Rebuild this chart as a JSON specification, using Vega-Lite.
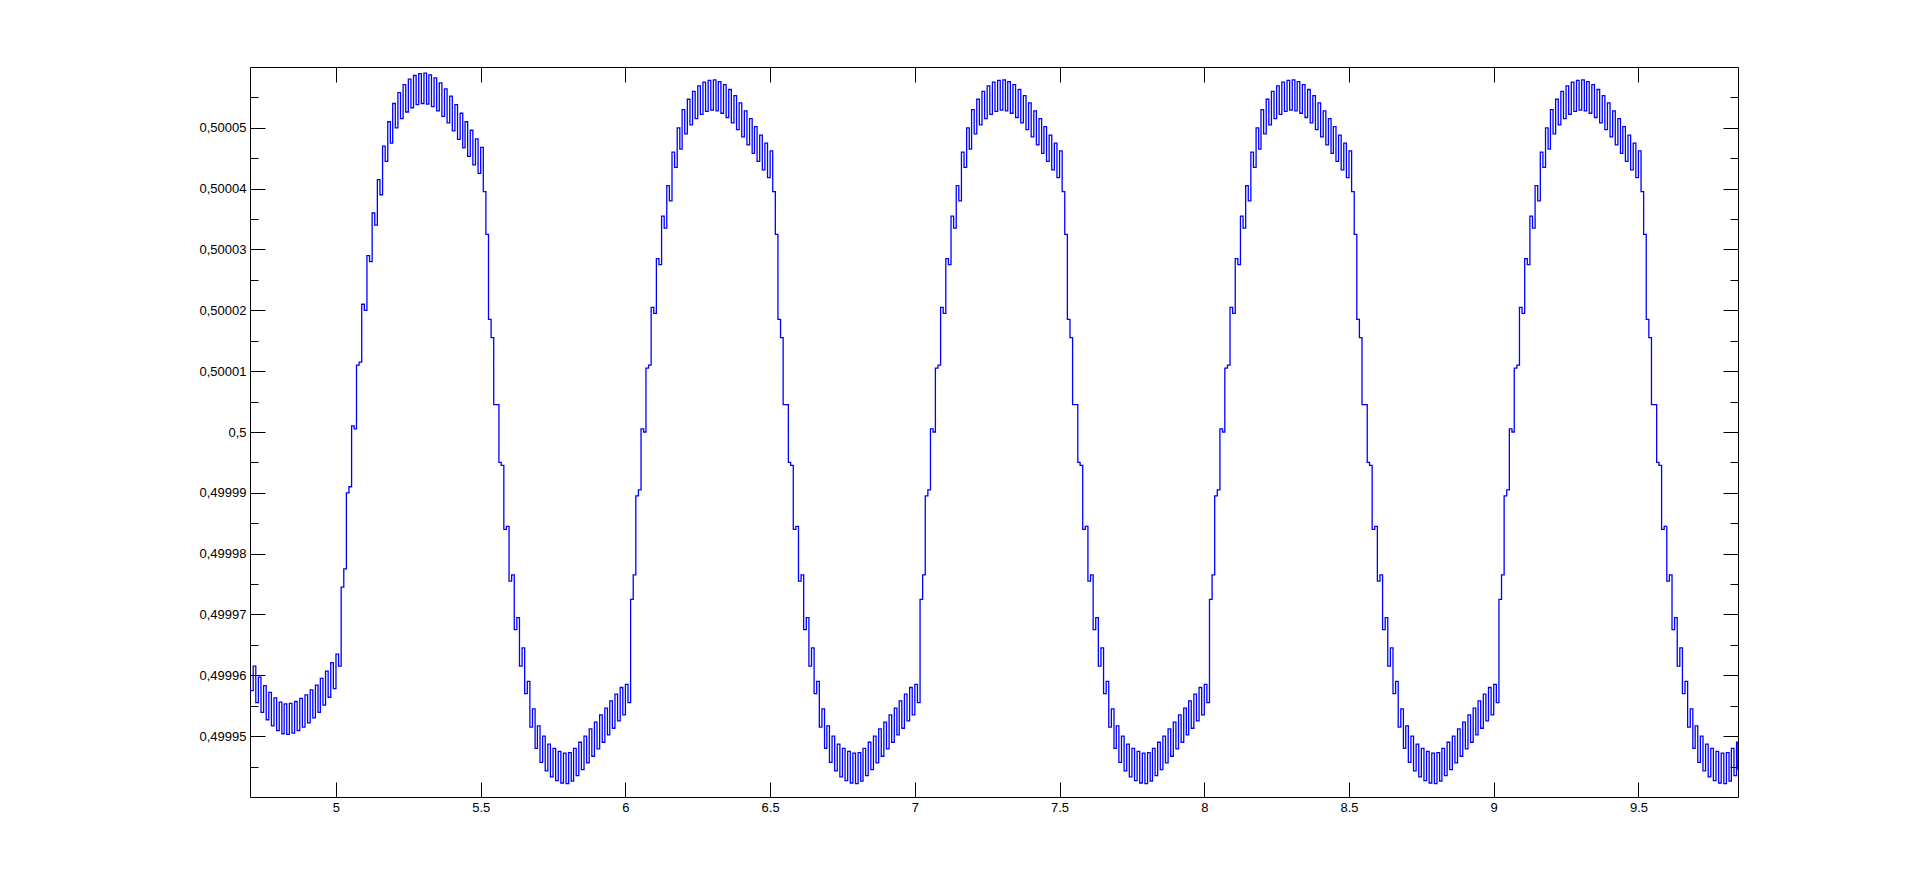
{
"$schema":"https://vega.github.io/schema/vega-lite/v6.json",
"width":1488,"height":730,
"autosize":{"type":"none"},
"padding":{"left":250,"top":67,"right":183,"bottom":98},
"background":"white",
"config":{"view":{"stroke":null},"axis":{"grid":false,"domainColor":"#000000","domainWidth":1,"tickColor":"#000000","tickWidth":1,"labelColor":"#000000","labelFont":"Liberation Sans","labelFontSize":13}},
"datasets":{"sig":[
{"x":4.703,"y":0.4999575},{"x":4.714,"y":0.4999615},{"x":4.723,"y":0.4999555},{"x":4.732,"y":0.4999597},{"x":4.741,"y":0.4999539},{"x":4.750,"y":0.4999583},{"x":4.759,"y":0.4999527},{"x":4.768,"y":0.4999572},{"x":4.777,"y":0.4999517},{"x":4.786,"y":0.4999563},{"x":4.795,"y":0.4999509},{"x":4.804,"y":0.4999556},{"x":4.813,"y":0.4999504},{"x":4.821,"y":0.4999553},{"x":4.830,"y":0.4999503},{"x":4.839,"y":0.4999554},{"x":4.848,"y":0.4999505},{"x":4.857,"y":0.4999557},{"x":4.866,"y":0.4999509},{"x":4.875,"y":0.4999562},{"x":4.884,"y":0.4999515},{"x":4.893,"y":0.4999568},{"x":4.902,"y":0.4999522},{"x":4.911,"y":0.4999576},{"x":4.920,"y":0.4999530},{"x":4.929,"y":0.4999584},{"x":4.938,"y":0.4999539},{"x":4.946,"y":0.4999595},{"x":4.955,"y":0.4999551},{"x":4.964,"y":0.4999607},{"x":4.973,"y":0.4999564},{"x":4.982,"y":0.4999621},{"x":4.991,"y":0.4999578},
{"x":5.000,"y":0.4999635},{"x":5.009,"y":0.4999615},{"x":5.018,"y":0.4999745},{"x":5.027,"y":0.4999775},{"x":5.036,"y":0.4999900},{"x":5.045,"y":0.4999910},{"x":5.054,"y":0.5000010},{"x":5.063,"y":0.5000005},{"x":5.071,"y":0.5000110},{"x":5.080,"y":0.5000115},{"x":5.089,"y":0.5000210},{"x":5.098,"y":0.5000200},{"x":5.107,"y":0.5000290},{"x":5.116,"y":0.5000280},{"x":5.125,"y":0.5000360},{"x":5.134,"y":0.5000340},{"x":5.143,"y":0.5000415},{"x":5.152,"y":0.5000390},{"x":5.161,"y":0.5000470},{"x":5.170,"y":0.5000445},{"x":5.179,"y":0.5000510},{"x":5.188,"y":0.5000475},{"x":5.196,"y":0.5000540},{"x":5.205,"y":0.5000500},{"x":5.214,"y":0.5000558},{"x":5.223,"y":0.5000515},{"x":5.232,"y":0.5000571},{"x":5.241,"y":0.5000526},{"x":5.250,"y":0.5000580},{"x":5.259,"y":0.5000533},{"x":5.268,"y":0.5000586},{"x":5.277,"y":0.5000538},{"x":5.286,"y":0.5000589},{"x":5.295,"y":0.5000540},{"x":5.304,"y":0.5000590},{"x":5.313,"y":0.5000539},{"x":5.321,"y":0.5000587},{"x":5.330,"y":0.5000535},{"x":5.339,"y":0.5000582},{"x":5.348,"y":0.5000528},{"x":5.357,"y":0.5000574},{"x":5.366,"y":0.5000519},{"x":5.375,"y":0.5000564},{"x":5.384,"y":0.5000508},{"x":5.393,"y":0.5000552},{"x":5.402,"y":0.5000495},{"x":5.411,"y":0.5000538},{"x":5.420,"y":0.5000481},{"x":5.429,"y":0.5000524},{"x":5.438,"y":0.5000467},{"x":5.446,"y":0.5000510},{"x":5.455,"y":0.5000453},{"x":5.464,"y":0.5000496},{"x":5.473,"y":0.5000439},{"x":5.482,"y":0.5000482},{"x":5.491,"y":0.5000425},{"x":5.500,"y":0.5000468},
{"x":5.509,"y":0.5000395},{"x":5.518,"y":0.5000325},{"x":5.527,"y":0.5000185},{"x":5.536,"y":0.5000155},{"x":5.545,"y":0.5000045},{"x":5.554,"y":0.5000045},{"x":5.563,"y":0.4999950},{"x":5.571,"y":0.4999945},{"x":5.580,"y":0.4999840},{"x":5.589,"y":0.4999845},{"x":5.598,"y":0.4999755},{"x":5.607,"y":0.4999765},{"x":5.616,"y":0.4999675},{"x":5.625,"y":0.4999695},{"x":5.634,"y":0.4999615},{"x":5.643,"y":0.4999645},{"x":5.652,"y":0.4999570},{"x":5.661,"y":0.4999590},{"x":5.670,"y":0.4999515},{"x":5.679,"y":0.4999545},{"x":5.688,"y":0.4999480},{"x":5.696,"y":0.4999517},{"x":5.705,"y":0.4999457},{"x":5.714,"y":0.4999500},{"x":5.723,"y":0.4999443},{"x":5.732,"y":0.4999487},{"x":5.741,"y":0.4999433},{"x":5.750,"y":0.4999480},{"x":5.759,"y":0.4999427},{"x":5.768,"y":0.4999475},{"x":5.777,"y":0.4999423},{"x":5.786,"y":0.4999472},{"x":5.795,"y":0.4999422},{"x":5.804,"y":0.4999473},{"x":5.813,"y":0.4999426},{"x":5.821,"y":0.4999480},{"x":5.830,"y":0.4999435},{"x":5.839,"y":0.4999490},{"x":5.848,"y":0.4999445},{"x":5.857,"y":0.4999500},{"x":5.866,"y":0.4999456},{"x":5.875,"y":0.4999512},{"x":5.884,"y":0.4999467},{"x":5.893,"y":0.4999523},{"x":5.902,"y":0.4999479},{"x":5.911,"y":0.4999535},{"x":5.920,"y":0.4999490},{"x":5.929,"y":0.4999546},{"x":5.938,"y":0.4999502},{"x":5.946,"y":0.4999558},{"x":5.955,"y":0.4999513},{"x":5.964,"y":0.4999569},{"x":5.973,"y":0.4999525},{"x":5.982,"y":0.4999580},{"x":5.991,"y":0.4999535},
{"x":6.000,"y":0.4999585},{"x":6.009,"y":0.4999555},{"x":6.018,"y":0.4999725},{"x":6.027,"y":0.4999765},{"x":6.036,"y":0.4999895},{"x":6.045,"y":0.4999905},{"x":6.054,"y":0.5000005},{"x":6.063,"y":0.5000000},{"x":6.071,"y":0.5000105},{"x":6.080,"y":0.5000110},{"x":6.089,"y":0.5000205},{"x":6.098,"y":0.5000195},{"x":6.107,"y":0.5000285},{"x":6.116,"y":0.5000275},{"x":6.125,"y":0.5000355},{"x":6.134,"y":0.5000335},{"x":6.143,"y":0.5000405},{"x":6.152,"y":0.5000380},{"x":6.161,"y":0.5000460},{"x":6.170,"y":0.5000435},{"x":6.179,"y":0.5000500},{"x":6.188,"y":0.5000465},{"x":6.196,"y":0.5000530},{"x":6.205,"y":0.5000490},{"x":6.214,"y":0.5000547},{"x":6.223,"y":0.5000505},{"x":6.232,"y":0.5000560},{"x":6.241,"y":0.5000515},{"x":6.250,"y":0.5000569},{"x":6.259,"y":0.5000522},{"x":6.268,"y":0.5000575},{"x":6.277,"y":0.5000527},{"x":6.286,"y":0.5000578},{"x":6.295,"y":0.5000529},{"x":6.304,"y":0.5000579},{"x":6.313,"y":0.5000528},{"x":6.321,"y":0.5000576},{"x":6.330,"y":0.5000524},{"x":6.339,"y":0.5000571},{"x":6.348,"y":0.5000517},{"x":6.357,"y":0.5000563},{"x":6.366,"y":0.5000508},{"x":6.375,"y":0.5000553},{"x":6.384,"y":0.5000497},{"x":6.393,"y":0.5000541},{"x":6.402,"y":0.5000485},{"x":6.411,"y":0.5000528},{"x":6.420,"y":0.5000472},{"x":6.429,"y":0.5000515},{"x":6.438,"y":0.5000458},{"x":6.446,"y":0.5000502},{"x":6.455,"y":0.5000445},{"x":6.464,"y":0.5000488},{"x":6.473,"y":0.5000431},{"x":6.482,"y":0.5000475},{"x":6.491,"y":0.5000418},{"x":6.500,"y":0.5000462},
{"x":6.509,"y":0.5000395},{"x":6.518,"y":0.5000325},{"x":6.527,"y":0.5000185},{"x":6.536,"y":0.5000155},{"x":6.545,"y":0.5000045},{"x":6.554,"y":0.5000045},{"x":6.563,"y":0.4999950},{"x":6.571,"y":0.4999945},{"x":6.580,"y":0.4999840},{"x":6.589,"y":0.4999845},{"x":6.598,"y":0.4999755},{"x":6.607,"y":0.4999765},{"x":6.616,"y":0.4999675},{"x":6.625,"y":0.4999695},{"x":6.634,"y":0.4999615},{"x":6.643,"y":0.4999645},{"x":6.652,"y":0.4999570},{"x":6.661,"y":0.4999590},{"x":6.670,"y":0.4999515},{"x":6.679,"y":0.4999545},{"x":6.688,"y":0.4999480},{"x":6.696,"y":0.4999517},{"x":6.705,"y":0.4999457},{"x":6.714,"y":0.4999500},{"x":6.723,"y":0.4999443},{"x":6.732,"y":0.4999487},{"x":6.741,"y":0.4999433},{"x":6.750,"y":0.4999480},{"x":6.759,"y":0.4999427},{"x":6.768,"y":0.4999475},{"x":6.777,"y":0.4999423},{"x":6.786,"y":0.4999472},{"x":6.795,"y":0.4999422},{"x":6.804,"y":0.4999473},{"x":6.813,"y":0.4999426},{"x":6.821,"y":0.4999480},{"x":6.830,"y":0.4999435},{"x":6.839,"y":0.4999490},{"x":6.848,"y":0.4999445},{"x":6.857,"y":0.4999500},{"x":6.866,"y":0.4999456},{"x":6.875,"y":0.4999512},{"x":6.884,"y":0.4999467},{"x":6.893,"y":0.4999523},{"x":6.902,"y":0.4999479},{"x":6.911,"y":0.4999535},{"x":6.920,"y":0.4999490},{"x":6.929,"y":0.4999546},{"x":6.938,"y":0.4999502},{"x":6.946,"y":0.4999558},{"x":6.955,"y":0.4999513},{"x":6.964,"y":0.4999569},{"x":6.973,"y":0.4999525},{"x":6.982,"y":0.4999580},{"x":6.991,"y":0.4999535},
{"x":7.000,"y":0.4999585},{"x":7.009,"y":0.4999555},{"x":7.018,"y":0.4999725},{"x":7.027,"y":0.4999765},{"x":7.036,"y":0.4999895},{"x":7.045,"y":0.4999905},{"x":7.054,"y":0.5000005},{"x":7.063,"y":0.5000000},{"x":7.071,"y":0.5000105},{"x":7.080,"y":0.5000110},{"x":7.089,"y":0.5000205},{"x":7.098,"y":0.5000195},{"x":7.107,"y":0.5000285},{"x":7.116,"y":0.5000275},{"x":7.125,"y":0.5000355},{"x":7.134,"y":0.5000335},{"x":7.143,"y":0.5000405},{"x":7.152,"y":0.5000380},{"x":7.161,"y":0.5000460},{"x":7.170,"y":0.5000435},{"x":7.179,"y":0.5000500},{"x":7.188,"y":0.5000465},{"x":7.196,"y":0.5000530},{"x":7.205,"y":0.5000490},{"x":7.214,"y":0.5000547},{"x":7.223,"y":0.5000505},{"x":7.232,"y":0.5000560},{"x":7.241,"y":0.5000515},{"x":7.250,"y":0.5000569},{"x":7.259,"y":0.5000522},{"x":7.268,"y":0.5000575},{"x":7.277,"y":0.5000527},{"x":7.286,"y":0.5000578},{"x":7.295,"y":0.5000529},{"x":7.304,"y":0.5000579},{"x":7.313,"y":0.5000528},{"x":7.321,"y":0.5000576},{"x":7.330,"y":0.5000524},{"x":7.339,"y":0.5000571},{"x":7.348,"y":0.5000517},{"x":7.357,"y":0.5000563},{"x":7.366,"y":0.5000508},{"x":7.375,"y":0.5000553},{"x":7.384,"y":0.5000497},{"x":7.393,"y":0.5000541},{"x":7.402,"y":0.5000485},{"x":7.411,"y":0.5000528},{"x":7.420,"y":0.5000472},{"x":7.429,"y":0.5000515},{"x":7.438,"y":0.5000458},{"x":7.446,"y":0.5000502},{"x":7.455,"y":0.5000445},{"x":7.464,"y":0.5000488},{"x":7.473,"y":0.5000431},{"x":7.482,"y":0.5000475},{"x":7.491,"y":0.5000418},{"x":7.500,"y":0.5000462},
{"x":7.509,"y":0.5000395},{"x":7.518,"y":0.5000325},{"x":7.527,"y":0.5000185},{"x":7.536,"y":0.5000155},{"x":7.545,"y":0.5000045},{"x":7.554,"y":0.5000045},{"x":7.563,"y":0.4999950},{"x":7.571,"y":0.4999945},{"x":7.580,"y":0.4999840},{"x":7.589,"y":0.4999845},{"x":7.598,"y":0.4999755},{"x":7.607,"y":0.4999765},{"x":7.616,"y":0.4999675},{"x":7.625,"y":0.4999695},{"x":7.634,"y":0.4999615},{"x":7.643,"y":0.4999645},{"x":7.652,"y":0.4999570},{"x":7.661,"y":0.4999590},{"x":7.670,"y":0.4999515},{"x":7.679,"y":0.4999545},{"x":7.688,"y":0.4999480},{"x":7.696,"y":0.4999517},{"x":7.705,"y":0.4999457},{"x":7.714,"y":0.4999500},{"x":7.723,"y":0.4999443},{"x":7.732,"y":0.4999487},{"x":7.741,"y":0.4999433},{"x":7.750,"y":0.4999480},{"x":7.759,"y":0.4999427},{"x":7.768,"y":0.4999475},{"x":7.777,"y":0.4999423},{"x":7.786,"y":0.4999472},{"x":7.795,"y":0.4999422},{"x":7.804,"y":0.4999473},{"x":7.813,"y":0.4999426},{"x":7.821,"y":0.4999480},{"x":7.830,"y":0.4999435},{"x":7.839,"y":0.4999490},{"x":7.848,"y":0.4999445},{"x":7.857,"y":0.4999500},{"x":7.866,"y":0.4999456},{"x":7.875,"y":0.4999512},{"x":7.884,"y":0.4999467},{"x":7.893,"y":0.4999523},{"x":7.902,"y":0.4999479},{"x":7.911,"y":0.4999535},{"x":7.920,"y":0.4999490},{"x":7.929,"y":0.4999546},{"x":7.938,"y":0.4999502},{"x":7.946,"y":0.4999558},{"x":7.955,"y":0.4999513},{"x":7.964,"y":0.4999569},{"x":7.973,"y":0.4999525},{"x":7.982,"y":0.4999580},{"x":7.991,"y":0.4999535},
{"x":8.000,"y":0.4999585},{"x":8.009,"y":0.4999555},{"x":8.018,"y":0.4999725},{"x":8.027,"y":0.4999765},{"x":8.036,"y":0.4999895},{"x":8.045,"y":0.4999905},{"x":8.054,"y":0.5000005},{"x":8.063,"y":0.5000000},{"x":8.071,"y":0.5000105},{"x":8.080,"y":0.5000110},{"x":8.089,"y":0.5000205},{"x":8.098,"y":0.5000195},{"x":8.107,"y":0.5000285},{"x":8.116,"y":0.5000275},{"x":8.125,"y":0.5000355},{"x":8.134,"y":0.5000335},{"x":8.143,"y":0.5000405},{"x":8.152,"y":0.5000380},{"x":8.161,"y":0.5000460},{"x":8.170,"y":0.5000435},{"x":8.179,"y":0.5000500},{"x":8.188,"y":0.5000465},{"x":8.196,"y":0.5000530},{"x":8.205,"y":0.5000490},{"x":8.214,"y":0.5000547},{"x":8.223,"y":0.5000505},{"x":8.232,"y":0.5000560},{"x":8.241,"y":0.5000515},{"x":8.250,"y":0.5000569},{"x":8.259,"y":0.5000522},{"x":8.268,"y":0.5000575},{"x":8.277,"y":0.5000527},{"x":8.286,"y":0.5000578},{"x":8.295,"y":0.5000529},{"x":8.304,"y":0.5000579},{"x":8.313,"y":0.5000528},{"x":8.321,"y":0.5000576},{"x":8.330,"y":0.5000524},{"x":8.339,"y":0.5000571},{"x":8.348,"y":0.5000517},{"x":8.357,"y":0.5000563},{"x":8.366,"y":0.5000508},{"x":8.375,"y":0.5000553},{"x":8.384,"y":0.5000497},{"x":8.393,"y":0.5000541},{"x":8.402,"y":0.5000485},{"x":8.411,"y":0.5000528},{"x":8.420,"y":0.5000472},{"x":8.429,"y":0.5000515},{"x":8.438,"y":0.5000458},{"x":8.446,"y":0.5000502},{"x":8.455,"y":0.5000445},{"x":8.464,"y":0.5000488},{"x":8.473,"y":0.5000431},{"x":8.482,"y":0.5000475},{"x":8.491,"y":0.5000418},{"x":8.500,"y":0.5000462},
{"x":8.509,"y":0.5000395},{"x":8.518,"y":0.5000325},{"x":8.527,"y":0.5000185},{"x":8.536,"y":0.5000155},{"x":8.545,"y":0.5000045},{"x":8.554,"y":0.5000045},{"x":8.563,"y":0.4999950},{"x":8.571,"y":0.4999945},{"x":8.580,"y":0.4999840},{"x":8.589,"y":0.4999845},{"x":8.598,"y":0.4999755},{"x":8.607,"y":0.4999765},{"x":8.616,"y":0.4999675},{"x":8.625,"y":0.4999695},{"x":8.634,"y":0.4999615},{"x":8.643,"y":0.4999645},{"x":8.652,"y":0.4999570},{"x":8.661,"y":0.4999590},{"x":8.670,"y":0.4999515},{"x":8.679,"y":0.4999545},{"x":8.688,"y":0.4999480},{"x":8.696,"y":0.4999517},{"x":8.705,"y":0.4999457},{"x":8.714,"y":0.4999500},{"x":8.723,"y":0.4999443},{"x":8.732,"y":0.4999487},{"x":8.741,"y":0.4999433},{"x":8.750,"y":0.4999480},{"x":8.759,"y":0.4999427},{"x":8.768,"y":0.4999475},{"x":8.777,"y":0.4999423},{"x":8.786,"y":0.4999472},{"x":8.795,"y":0.4999422},{"x":8.804,"y":0.4999473},{"x":8.813,"y":0.4999426},{"x":8.821,"y":0.4999480},{"x":8.830,"y":0.4999435},{"x":8.839,"y":0.4999490},{"x":8.848,"y":0.4999445},{"x":8.857,"y":0.4999500},{"x":8.866,"y":0.4999456},{"x":8.875,"y":0.4999512},{"x":8.884,"y":0.4999467},{"x":8.893,"y":0.4999523},{"x":8.902,"y":0.4999479},{"x":8.911,"y":0.4999535},{"x":8.920,"y":0.4999490},{"x":8.929,"y":0.4999546},{"x":8.938,"y":0.4999502},{"x":8.946,"y":0.4999558},{"x":8.955,"y":0.4999513},{"x":8.964,"y":0.4999569},{"x":8.973,"y":0.4999525},{"x":8.982,"y":0.4999580},{"x":8.991,"y":0.4999535},
{"x":9.000,"y":0.4999585},{"x":9.009,"y":0.4999555},{"x":9.018,"y":0.4999725},{"x":9.027,"y":0.4999765},{"x":9.036,"y":0.4999895},{"x":9.045,"y":0.4999905},{"x":9.054,"y":0.5000005},{"x":9.063,"y":0.5000000},{"x":9.071,"y":0.5000105},{"x":9.080,"y":0.5000110},{"x":9.089,"y":0.5000205},{"x":9.098,"y":0.5000195},{"x":9.107,"y":0.5000285},{"x":9.116,"y":0.5000275},{"x":9.125,"y":0.5000355},{"x":9.134,"y":0.5000335},{"x":9.143,"y":0.5000405},{"x":9.152,"y":0.5000380},{"x":9.161,"y":0.5000460},{"x":9.170,"y":0.5000435},{"x":9.179,"y":0.5000500},{"x":9.188,"y":0.5000465},{"x":9.196,"y":0.5000530},{"x":9.205,"y":0.5000490},{"x":9.214,"y":0.5000547},{"x":9.223,"y":0.5000505},{"x":9.232,"y":0.5000560},{"x":9.241,"y":0.5000515},{"x":9.250,"y":0.5000569},{"x":9.259,"y":0.5000522},{"x":9.268,"y":0.5000575},{"x":9.277,"y":0.5000527},{"x":9.286,"y":0.5000578},{"x":9.295,"y":0.5000529},{"x":9.304,"y":0.5000579},{"x":9.313,"y":0.5000528},{"x":9.321,"y":0.5000576},{"x":9.330,"y":0.5000524},{"x":9.339,"y":0.5000571},{"x":9.348,"y":0.5000517},{"x":9.357,"y":0.5000563},{"x":9.366,"y":0.5000508},{"x":9.375,"y":0.5000553},{"x":9.384,"y":0.5000497},{"x":9.393,"y":0.5000541},{"x":9.402,"y":0.5000485},{"x":9.411,"y":0.5000528},{"x":9.420,"y":0.5000472},{"x":9.429,"y":0.5000515},{"x":9.438,"y":0.5000458},{"x":9.446,"y":0.5000502},{"x":9.455,"y":0.5000445},{"x":9.464,"y":0.5000488},{"x":9.473,"y":0.5000431},{"x":9.482,"y":0.5000475},{"x":9.491,"y":0.5000418},{"x":9.500,"y":0.5000462},
{"x":9.509,"y":0.5000395},{"x":9.518,"y":0.5000325},{"x":9.527,"y":0.5000185},{"x":9.536,"y":0.5000155},{"x":9.545,"y":0.5000045},{"x":9.554,"y":0.5000045},{"x":9.563,"y":0.4999950},{"x":9.571,"y":0.4999945},{"x":9.580,"y":0.4999840},{"x":9.589,"y":0.4999845},{"x":9.598,"y":0.4999755},{"x":9.607,"y":0.4999765},{"x":9.616,"y":0.4999675},{"x":9.625,"y":0.4999695},{"x":9.634,"y":0.4999615},{"x":9.643,"y":0.4999645},{"x":9.652,"y":0.4999570},{"x":9.661,"y":0.4999590},{"x":9.670,"y":0.4999515},{"x":9.679,"y":0.4999545},{"x":9.688,"y":0.4999480},{"x":9.696,"y":0.4999517},{"x":9.705,"y":0.4999457},{"x":9.714,"y":0.4999500},{"x":9.723,"y":0.4999443},{"x":9.732,"y":0.4999487},{"x":9.741,"y":0.4999433},{"x":9.750,"y":0.4999480},{"x":9.759,"y":0.4999427},{"x":9.768,"y":0.4999475},{"x":9.777,"y":0.4999423},{"x":9.786,"y":0.4999472},{"x":9.795,"y":0.4999422},{"x":9.804,"y":0.4999473},{"x":9.813,"y":0.4999426},{"x":9.821,"y":0.4999480},{"x":9.830,"y":0.4999435},{"x":9.839,"y":0.4999490},{"x":9.844,"y":0.4999445}
]},
"resolve":{"axis":{"x":"independent","y":"independent"}},
"layer":[
{"data":{"name":"sig"},
 "mark":{"type":"line","interpolate":"step-after","color":"#0000ff","strokeWidth":1.3,"clip":true},
 "encoding":{
  "x":{"field":"x","type":"quantitative","title":null,"scale":{"domain":[4.703,9.844],"nice":false,"zero":false},
       "axis":{"orient":"bottom","values":[5,5.5,6,6.5,7,7.5,8,8.5,9,9.5],"format":"~g","ticks":false,"domain":true,"labelPadding":4,"labelFlush":false,"labelOverlap":false}},
  "y":{"field":"y","type":"quantitative","title":null,"scale":{"domain":[0.49994,0.50006],"nice":false,"zero":false},
       "axis":{"orient":"left","values":[0.49995,0.49996,0.49997,0.49998,0.49999,0.5,0.50001,0.50002,0.50003,0.50004,0.50005],"labelExpr":"replace(format(datum.value, '.5~f'), '.', ',')","ticks":false,"domain":true,"labelPadding":4,"labelFlush":false,"labelOverlap":false}}
 }},
{"data":{"name":"sig"},"transform":[{"filter":"datum.x < 4.71"}],
 "mark":{"type":"point","opacity":0},
 "encoding":{
  "x":{"field":"x","type":"quantitative","title":null,"axis":{"orient":"bottom","values":[5,5.5,6,6.5,7,7.5,8,8.5,9,9.5],"labels":false,"domain":false,"tickSize":-15}},
  "y":{"field":"y","type":"quantitative","title":null,"axis":{"orient":"left","values":[0.49995,0.49996,0.49997,0.49998,0.49999,0.5,0.50001,0.50002,0.50003,0.50004,0.50005],"labels":false,"domain":false,"tickSize":-15}}
 }},
{"data":{"name":"sig"},"transform":[{"filter":"datum.x < 4.71"}],
 "mark":{"type":"point","opacity":0},
 "encoding":{
  "x":{"field":"x","type":"quantitative","title":null,"axis":{"orient":"top","values":[5,5.5,6,6.5,7,7.5,8,8.5,9,9.5],"labels":false,"domain":true,"tickSize":-15}},
  "y":{"field":"y","type":"quantitative","title":null,"axis":{"orient":"right","values":[0.49995,0.49996,0.49997,0.49998,0.49999,0.5,0.50001,0.50002,0.50003,0.50004,0.50005],"labels":false,"domain":true,"tickSize":-15}}
 }},
{"data":{"name":"sig"},"transform":[{"filter":"datum.x < 4.71"}],
 "mark":{"type":"point","opacity":0},
 "encoding":{
  "x":{"field":"x","type":"quantitative","title":null,"axis":null},
  "y":{"field":"y","type":"quantitative","title":null,"axis":{"orient":"left","values":[0.499945,0.499955,0.499965,0.499975,0.499985,0.499995,0.500005,0.500015,0.500025,0.500035,0.500045,0.500055],"labels":false,"domain":false,"tickSize":-8}}
 }},
{"data":{"name":"sig"},"transform":[{"filter":"datum.x < 4.71"}],
 "mark":{"type":"point","opacity":0},
 "encoding":{
  "x":{"field":"x","type":"quantitative","title":null,"axis":null},
  "y":{"field":"y","type":"quantitative","title":null,"axis":{"orient":"right","values":[0.499945,0.499955,0.499965,0.499975,0.499985,0.499995,0.500005,0.500015,0.500025,0.500035,0.500045,0.500055],"labels":false,"domain":false,"tickSize":-8}}
 }}
]
}
